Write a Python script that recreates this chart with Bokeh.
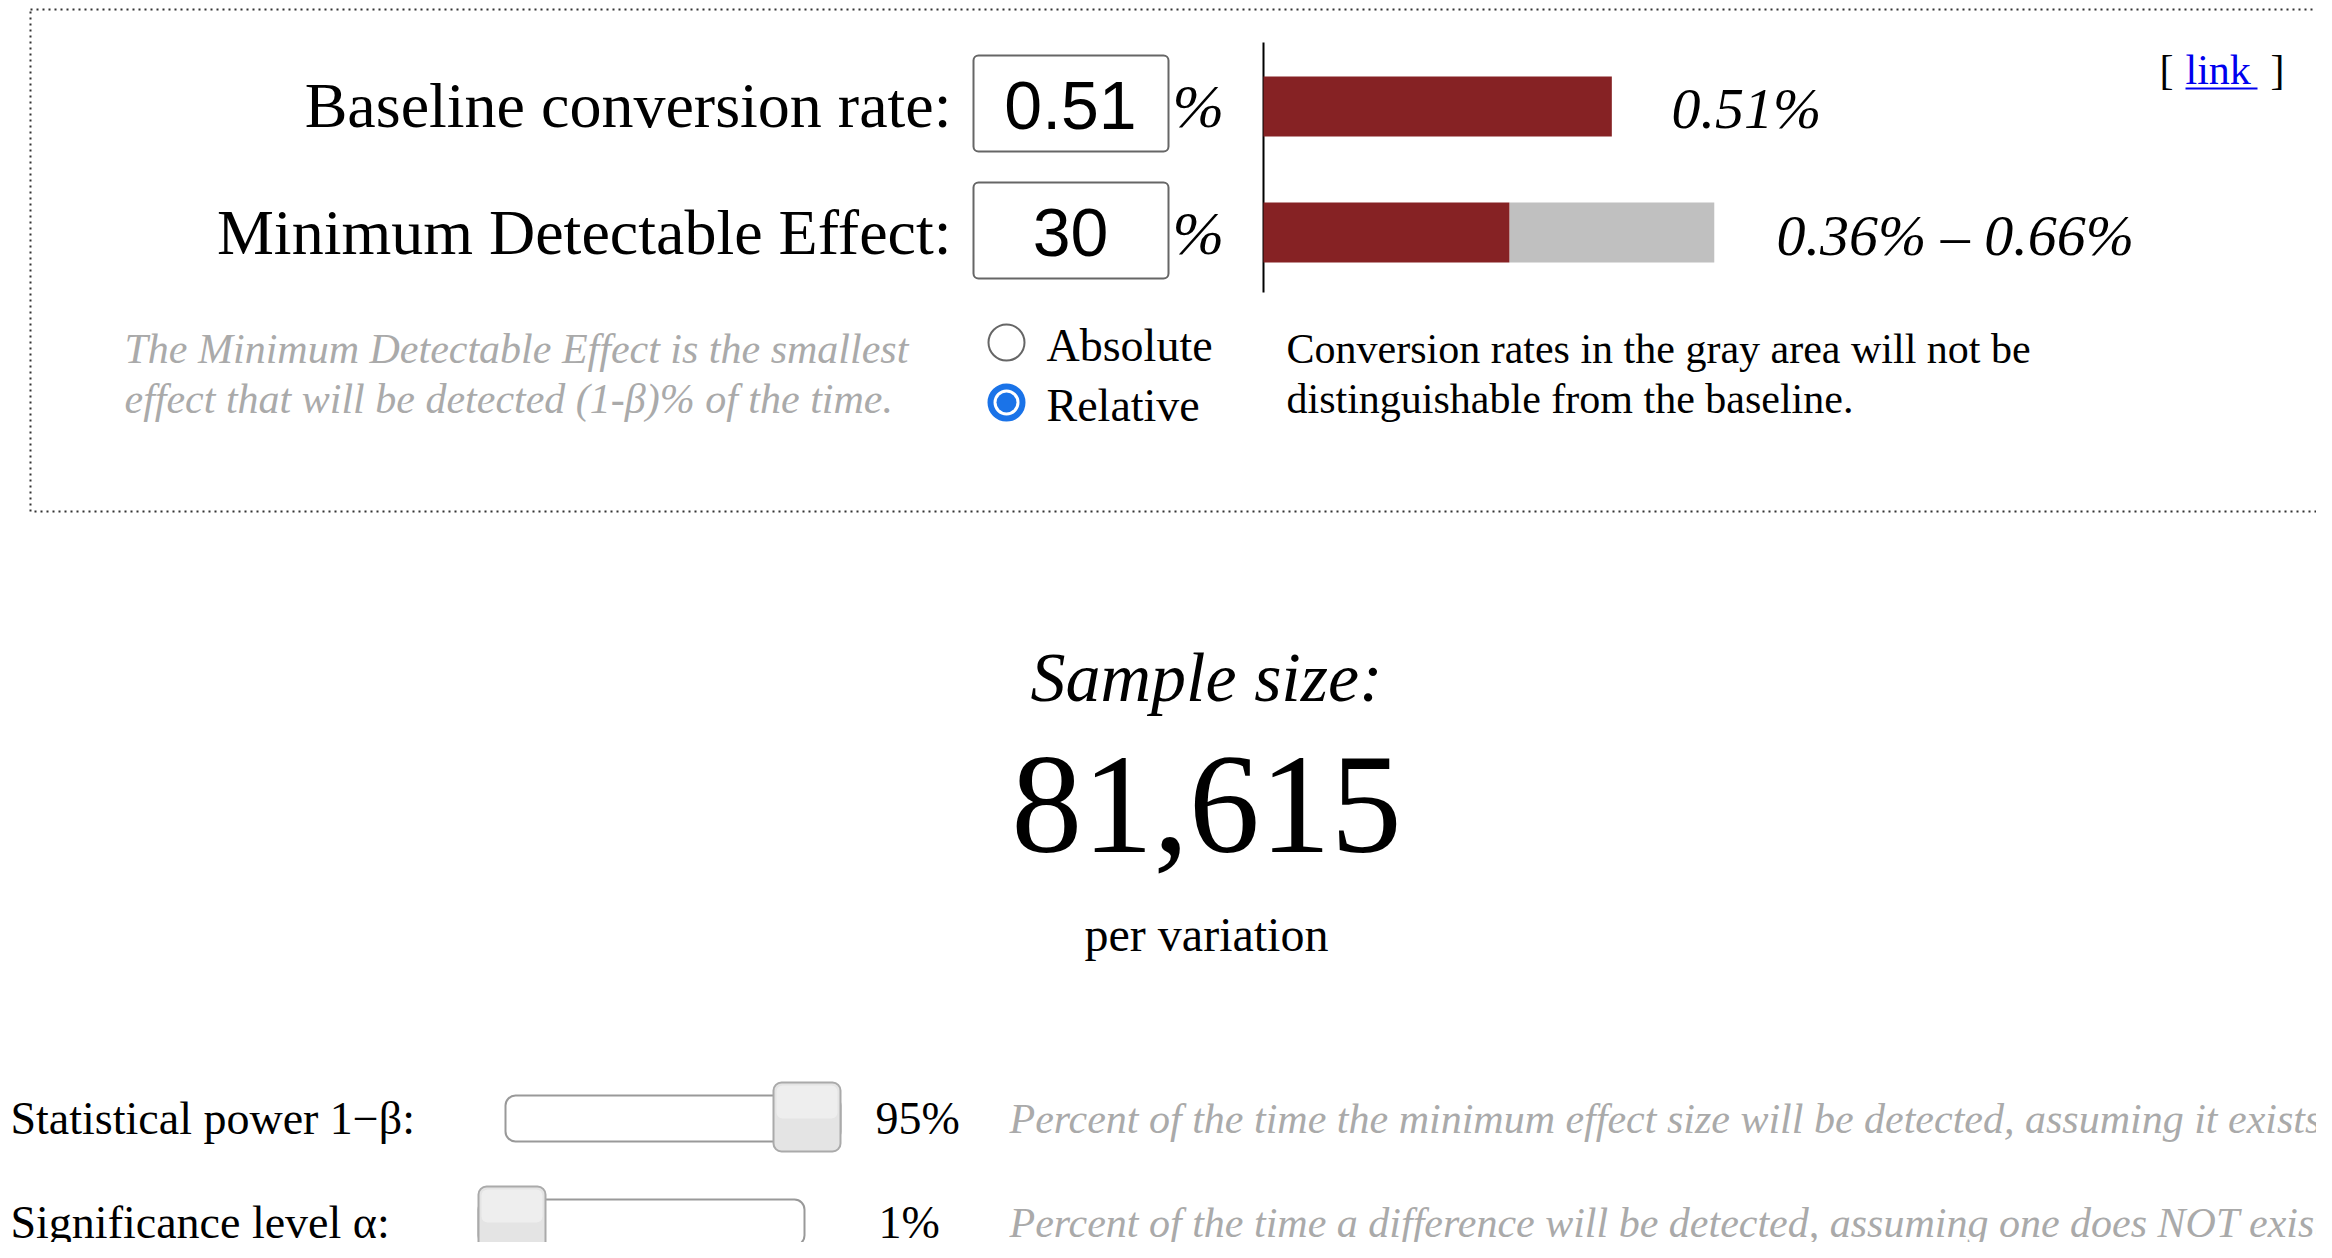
from bokeh.plotting import figure
from bokeh.models import Range1d
from bokeh.core.properties import value
from bokeh.embed import file_html
from bokeh.resources import INLINE

baseline_rate = 0.51
mde_relative = 30
sample_size = 81615
power = 95
power_range = [50, 95]
alpha = 1
alpha_range = [1, 10]
low = round(baseline_rate * (1 - mde_relative / 100), 2)
high = round(baseline_rate * (1 + mde_relative / 100), 2)

SERIF = value("Liberation Serif")
SANS = value("Liberation Sans")

p = figure(width=2316, height=1242, x_range=Range1d(0, 2316), y_range=Range1d(1242, 0),
           output_backend="svg", toolbar_location=None, min_border=0)
p.axis.visible = False
p.grid.visible = False
p.outline_line_color = None

def txt(x, y, s, size, align="left", style="normal", color="#000000", font=SERIF):
    p.text(x=[x], y=[y], text=[s], text_font=font, text_font_size=f"{size}px",
           text_align=align, text_baseline="middle", text_font_style=style, text_color=color)

# dotted box
p.quad(left=[30], right=[2320], top=[9], bottom=[511], fill_color=None,
       line_color="#333333", line_dash="dotted", line_width=2)

# labels and inputs
txt(951, 105, "Baseline conversion rate:", 64, align="right")
txt(951, 232, "Minimum Detectable Effect:", 64, align="right")
for yc, val in [(103, f"{baseline_rate:.2f}"), (230, f"{mde_relative}")]:
    p.quad(left=[973], right=[1168], top=[yc - 48], bottom=[yc + 48], fill_color="white",
           line_color="#666666", line_width=2, border_radius=5)
    txt(1070, yc + 2, val, 68, align="center", font=SANS)
    txt(1172, yc + 2, "%", 62, style="italic")

# bars
X0 = 1263
PX = 683.0
p.segment(x0=[X0], y0=[42], x1=[X0], y1=[292], line_color="black", line_width=2)
p.quad(left=[X0], right=[X0 + baseline_rate * PX], top=[76], bottom=[136],
       fill_color="#862224", line_color=None)
p.quad(left=[X0 + low * PX], right=[X0 + high * PX], top=[202], bottom=[262],
       fill_color="#c0c0c0", line_color=None)
p.quad(left=[X0], right=[X0 + low * PX], top=[202], bottom=[262],
       fill_color="#862224", line_color=None)
txt(1671, 108, f"{baseline_rate:.2f}%", 58, style="italic")
txt(1776, 235, f"{low:.2f}% \u2013 {high:.2f}%", 58, style="italic")

# link
txt(2159, 69, "[", 42)
txt(2185, 69, "link", 42, color="#0000ee")
p.segment(x0=[2185], y0=[88], x1=[2257], y1=[88], line_color="#0000ee", line_width=2)
txt(2270, 69, "]", 42)

# explanation
txt(124, 348, "The Minimum Detectable Effect is the smallest", 42, style="italic", color="#aaaaaa")
txt(124, 398, "effect that will be detected (1-\u03b2)% of the time.", 42, style="italic", color="#aaaaaa")

# radios
p.scatter(x=[1006], y=[342], size=36, fill_color="white", line_color="#666666", line_width=2)
p.scatter(x=[1006], y=[402], size=36, fill_color="#1a73e8", line_color="#1a73e8", line_width=2)
p.scatter(x=[1006], y=[402], size=26, fill_color="white", line_color=None)
p.scatter(x=[1006], y=[402], size=20, fill_color="#1a73e8", line_color=None)
txt(1046, 345, "Absolute", 46)
txt(1046, 405, "Relative", 46)
txt(1286, 348, "Conversion rates in the gray area will not be", 42)
txt(1286, 398, "distinguishable from the baseline.", 42)

# result
txt(1206, 677, "Sample size:", 70, align="center", style="italic")
txt(1206, 805, f"{sample_size:,}", 142, align="center")
txt(1206, 934, "per variation", 48, align="center")

# sliders
def slider(y, label, val, rng, tl, tr, pct_x, desc):
    txt(10, y, label, 46)
    p.quad(left=[tl], right=[tr], top=[y - 23], bottom=[y + 23], fill_color="white",
           line_color="#999999", line_width=2, border_radius=10)
    hw = 67
    hx = tl + (val - rng[0]) / (rng[1] - rng[0]) * (tr - tl - hw)
    p.quad(left=[hx], right=[hx + hw], top=[y - 36], bottom=[y + 33], fill_color="#e4e4e4",
           line_color="#aaaaaa", line_width=2, border_radius=8)
    p.quad(left=[hx + 3], right=[hx + hw - 3], top=[y - 33], bottom=[y], fill_color="#eeeeee",
           line_color=None, border_radius=6)
    txt(pct_x, y, f"{val}%", 46)
    txt(1009, y, desc, 42, style="italic", color="#aaaaaa")

slider(1118, "Statistical power 1\u2212\u03b2:", power, power_range, 505, 840, 875,
       "Percent of the time the minimum effect size will be detected, assuming it exists")
slider(1222, "Significance level \u03b1:", alpha, alpha_range, 478, 804, 878,
       "Percent of the time a difference will be detected, assuming one does NOT exist")

open("out.html", "w").write(file_html(p, INLINE))
